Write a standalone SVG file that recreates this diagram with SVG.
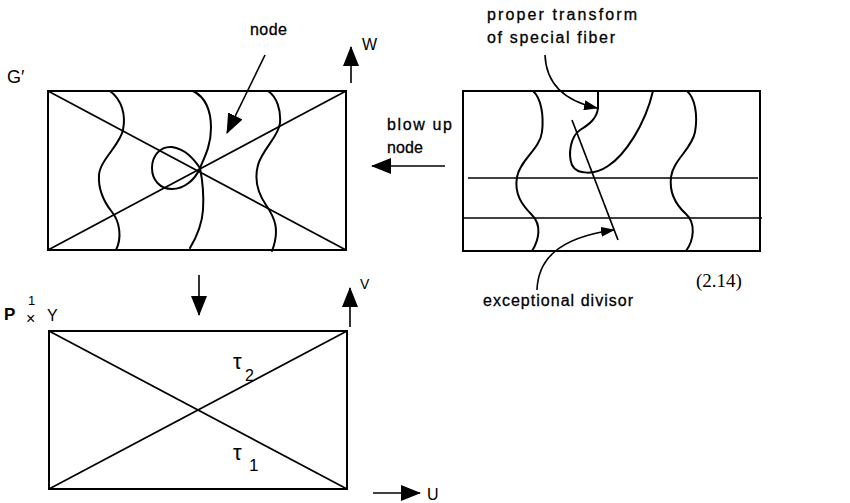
<svg xmlns="http://www.w3.org/2000/svg" width="850" height="503" viewBox="0 0 850 503">
<defs>
<style>
.box{fill:none;stroke:#000;stroke-width:2}
.ln{fill:none;stroke:#000;stroke-width:1.7}
.thin{fill:none;stroke:#000;stroke-width:1.3}
.cv{fill:none;stroke:#000;stroke-width:2;stroke-linejoin:round;stroke-linecap:round}
.arr{fill:none;stroke:#000;stroke-width:1.6}
.lbl{font-family:"Liberation Sans","DejaVu Sans",sans-serif;font-size:16px;fill:#000;stroke:#000;stroke-width:0.3}
.sym{font-family:"Liberation Sans","DejaVu Sans",sans-serif;fill:#000}
.num{font-family:"Liberation Serif","Times New Roman",serif;font-size:19px;fill:#000}
</style>
<marker id="big" viewBox="0 0 20 16" refX="19" refY="8" markerWidth="20" markerHeight="16" markerUnits="userSpaceOnUse" orient="auto">
<path d="M0,0 L20,8 L0,16 z" fill="#000"/>
</marker>
<marker id="small" viewBox="0 0 14 10" refX="13" refY="5" markerWidth="14" markerHeight="10" markerUnits="userSpaceOnUse" orient="auto">
<path d="M0,0 L14,5 L0,10 z" fill="#000"/>
</marker>
</defs>
<rect width="850" height="503" fill="#fff"/>

<g id="G-prime">
<rect class="box" x="48" y="91" width="298" height="159"/>
<line class="ln" x1="48" y1="91" x2="346" y2="250"/>
<line class="ln" x1="48" y1="250" x2="346" y2="91"/>
<path class="cv" d="M110,91 C122,100 126,115 123,130 S100,160 99,175 S104,202 112,212 S122,238 116,250"/>
<path class="cv" d="M193,91 C205,97 211,110 211,128 S204,158 200,168 C202,178 204,195 203,210 S196,238 190,248"/>
<path class="cv" d="M200,168 C193,158 185,149 172,147 C160,146 152,156 152,168 C152,180 160,189 172,189 C184,189 195,180 200,168 Z"/>
<path class="cv" d="M268,91 C277,97 281,110 280,123 S262,150 258,165 S257,192 266,205 S280,230 272,251"/>
<text class="sym" x="7" y="83" font-size="18">G′</text>
<text class="lbl" x="250" y="35" textLength="37" lengthAdjust="spacing">node</text>
<text class="sym" x="362" y="50" font-size="16">W</text>
</g>

<g id="blown-up">
<rect class="box" x="463" y="91" width="297" height="160"/>
<line class="thin" x1="468" y1="178" x2="758" y2="178"/>
<line class="thin" x1="463" y1="218" x2="762" y2="218"/>
<path class="cv" d="M533,91 C541,98 544,115 542,132 S520,160 517,177 S522,205 532,215 S539,240 532,251"/>
<path class="cv" d="M687,91 C695,98 698,115 695,132 S673,160 671,177 S676,205 686,214 S694,240 686,251"/>
<path class="cv" d="M598,91 L598,108 C597,118 590,124 580,130 C570,137 568,155 572,165 C577,175 595,175 608,166 C625,155 645,125 653,91"/>
<line class="ln" x1="572" y1="120" x2="618" y2="240"/>
<text class="lbl" x="487" y="20" textLength="150" lengthAdjust="spacing">proper transform</text>
<text class="lbl" x="487" y="43" textLength="128" lengthAdjust="spacing">of special fiber</text>
<text class="lbl" x="483" y="306" textLength="150" lengthAdjust="spacing">exceptional divisor</text>
<text class="lbl" x="387" y="130" textLength="65" lengthAdjust="spacing">blow up</text>
<text class="lbl" x="387" y="153" textLength="36" lengthAdjust="spacing">node</text>
</g>

<g id="P1xY">
<rect class="box" x="49" y="331" width="298" height="158"/>
<line class="ln" x1="49" y1="331" x2="347" y2="489"/>
<line class="ln" x1="49" y1="489" x2="347" y2="331"/>
<text class="sym" x="4" y="320" font-size="17" font-weight="bold">P</text>
<text class="sym" x="28" y="305" font-size="13">1</text>
<text class="sym" x="26" y="324" font-size="16">×</text>
<text class="sym" x="47" y="321" font-size="16">Y</text>
<text class="sym" x="233" y="369" font-size="22">τ<tspan x="245" y="381" font-size="16">2</tspan></text>
<text class="sym" x="233" y="460" font-size="22">τ<tspan x="249" y="471" font-size="17">1</tspan></text>
<text class="sym" x="360" y="289" font-size="14">V</text>
<text class="sym" x="427" y="500" font-size="16">U</text>
</g>

<g id="equation-number">
<text class="num" x="696" y="287">(2.14)</text>
</g>

<g id="connectors">
<line class="arr" x1="265" y1="55" x2="227" y2="133" marker-end="url(#big)"/>
<line class="arr" x1="351" y1="83" x2="351" y2="47" marker-end="url(#big)"/>
<line class="arr" x1="445" y1="166" x2="372" y2="166" marker-end="url(#big)"/>
<line class="arr" x1="199" y1="275" x2="199" y2="315" marker-end="url(#big)"/>
<line class="arr" x1="350" y1="327" x2="350" y2="288" marker-end="url(#big)"/>
<line class="arr" x1="373" y1="493" x2="420" y2="493" marker-end="url(#big)"/>
<path class="arr" d="M545,55 C546,80 560,100 597,108" marker-end="url(#small)"/>
<path class="arr" d="M537,290 C538,262 555,238 614,230" marker-end="url(#small)"/>
</g>
</svg>
